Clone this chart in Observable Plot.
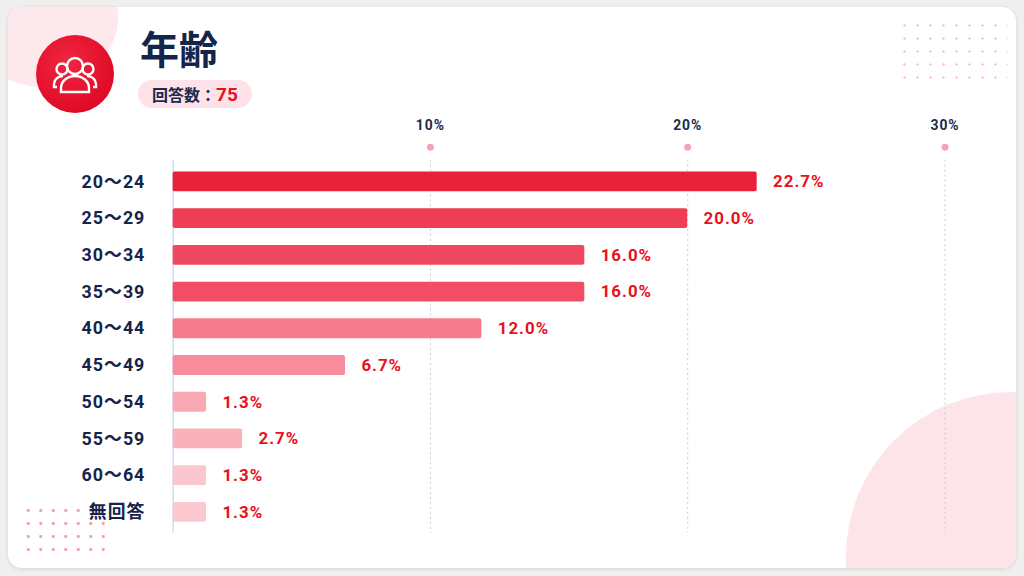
<!DOCTYPE html>
<html><head><meta charset="utf-8">
<script src="https://cdn.jsdelivr.net/npm/d3@7"></script>
<script src="https://cdn.jsdelivr.net/npm/@observablehq/plot@0.6"></script>
<style>
body{margin:0;width:1024px;height:576px;background:#efefef;font-family:"Noto Sans CJK JP",Roboto,sans-serif;overflow:hidden}
#card{position:absolute;left:8px;top:7px;width:1008px;height:561px;background:#fff;border-radius:14px;overflow:hidden;box-shadow:0 1px 4px rgba(0,0,0,.12)}
.abs{position:absolute}
#chart{position:absolute;left:-8px;top:103px}
#chart text{letter-spacing:1px}
</style></head><body>
<div id="card">
 <div class="abs" style="left:-40px;top:-60px;width:150px;height:140px;border-radius:50%;background:#fde8ec"></div>
 <div class="abs" style="left:838px;top:385px;width:330px;height:330px;border-radius:50%;background:#fde4e8"></div>
 <div class="abs" style="left:890px;top:12px;width:110px;height:70px;background-image:radial-gradient(#f7b9c4 1.2px,transparent 1.4px);background-size:13px 13px;opacity:.8"></div>
 <div class="abs" style="left:14px;top:497px;width:90px;height:50px;background-image:radial-gradient(#f59aaa 1.3px,transparent 1.5px);background-size:12.5px 13px"></div>
 <div class="abs" style="left:28px;top:28px;width:78px;height:78px;border-radius:50%;background:radial-gradient(circle at 40% 35%,#f0263f,#d9001e)">
  <svg width="78" height="78" viewBox="0 0 78 78" fill="none" stroke="#fff" stroke-width="2.4">
   <circle cx="39" cy="31" r="8"/><path d="M25 57v-4a14 12 0 0 1 28 0v4z"/>
   <circle cx="26" cy="34" r="5.5"/><path d="M21 52h-3v-3a9 8 0 0 1 9-8"/>
   <circle cx="52" cy="34" r="5.5"/><path d="M57 52h3v-3a9 8 0 0 0-9-8"/>
  </svg>
 </div>
 <div class="abs" style="left:132px;top:12px;font-size:39px;font-weight:700;color:#14244a">年齢</div>
 <div class="abs" style="left:130px;top:73px;height:28px;padding:0 14px;border-radius:14px;background:#fde3e8;display:flex;align-items:center;font-size:16px;font-weight:700;color:#1c2a4e">回答数：<span style="color:#e8101c;font-size:19px;font-family:Roboto">75</span></div>
 <div id="chart"></div>
</div>
<script>
const categories=["20～24","25～29","30～34","35～39","40～44","45～49","50～54","55～59","60～64","無回答"];
const values=[22.7,20.0,16.0,16.0,12.0,6.7,1.3,2.7,1.3,1.3];
const colors=["#e8223b","#ef3d55","#f0495f","#f14e64","#f57b8c","#f78d9c","#f9a9b4","#f9b2bc","#fbc6ce","#fbc9d0"];
const tickValues=[10,20,30];
const data=categories.map((c,i)=>({c,v:values[i],col:colors[i]}));
const chart=Plot.plot({
 width:1024,height:452,marginLeft:174,marginRight:15,marginTop:50,marginBottom:26,
 x:{domain:[0,32.2],axis:null},
 y:{domain:categories,paddingInner:0.46,paddingOuter:0.23,label:null},
 style:{fontFamily:"Roboto, 'Noto Sans CJK JP', sans-serif"},
 marks:[
  Plot.ruleX(tickValues,{stroke:"#c9ccd6",strokeDasharray:"2,3",strokeWidth:1}),
  Plot.dot(tickValues,{x:d=>d,frameAnchor:"top",dy:-13,r:3.5,fill:"#f7a3b1"}),
  Plot.text(tickValues,{x:d=>d,frameAnchor:"top",dy:-40,text:d=>d+"%",fontSize:14,fontWeight:700,fill:"#1c2a4e"}),
  Plot.ruleX([0],{stroke:"#bcd6f2",strokeWidth:1.2}),
  Plot.barX(data,{x:"v",y:"c",fill:"col",rx:2}),
  Plot.text(data,{x:"v",y:"c",text:d=>d.v.toFixed(1)+"%",textAnchor:"start",dx:16,fill:"#e8101c",fontSize:17,fontWeight:700}),
  Plot.axisY({tickSize:0,tickPadding:28,fontSize:18,fontWeight:700,fill:"#14244a"})
 ]
});
document.getElementById("chart").appendChild(chart);
</script>
</body></html>
